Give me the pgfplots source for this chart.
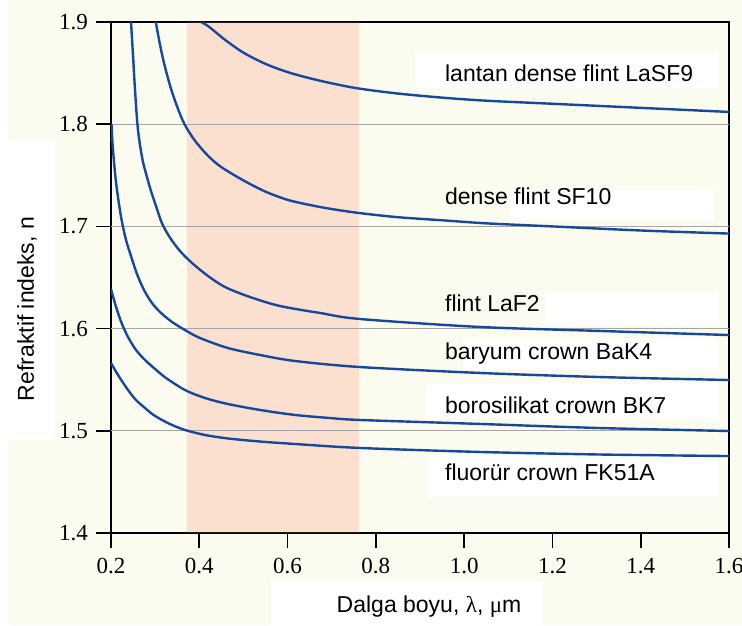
\documentclass[border=0pt]{standalone}
\usepackage{fontspec}
\setmainfont{Liberation Serif}
\newfontfamily\arial{Liberation Sans}
\usepackage{pgfplots}
\pgfplotsset{compat=1.18}
\definecolor{cream}{RGB}{251,251,240}
\definecolor{shade}{RGB}{251,224,208}
\definecolor{curve}{RGB}{22,72,155}
\definecolor{gridc}{RGB}{165,165,165}
\begin{document}
\begin{tikzpicture}
\fill[cream] (0,0) rectangle (742pt,625pt);
\fill[white] (0,0) rectangle (8pt,625pt);
\fill[white] (0,185pt) rectangle (55pt,485pt);
\fill[white] (271pt,0) rectangle (543pt,44pt);
\begin{axis}[
  at={(111pt,92pt)}, anchor=south west,
  scale only axis, width=618pt, height=511pt,
  xmin=0.2, xmax=1.6, ymin=1.4, ymax=1.9,
  xtick={0.2,0.4,0.6,0.8,1.0,1.2,1.4,1.6},
  ytick={1.4,1.5,1.6,1.7,1.8,1.9},
  xticklabel={\pgfmathprintnumber[fixed,fixed zerofill,precision=1,assume math mode=true]{\tick}},
  yticklabel={\pgfmathprintnumber[fixed,fixed zerofill,precision=1,assume math mode=true]{\tick}},
  xticklabel style={font=\rmfamily\fontsize{23}{25}\selectfont, inner sep=0pt, anchor=north, yshift=-25pt},
  yticklabel style={font=\rmfamily\fontsize{23}{25}\selectfont, inner sep=0pt, anchor=east, xshift=-23pt},
  major tick length=0pt,
  tick style={draw=none},
  axis line style={black, line width=1.6pt},
  axis background/.style={fill=cream},
]
\addplot[fill=shade, draw=none] coordinates {(0.372,1.4008) (0.762,1.4008) (0.762,1.8992) (0.372,1.8992)} \closedcycle;
% grid lines
\foreach \g in {1.5,1.6,1.7,1.8} {
  \edef\tmp{\noexpand\draw[gridc, line width=1pt] (axis cs:0.2,\g) -- (axis cs:1.6,\g);}\tmp
}

% white label patches
\fill[white] (axis cs:0.8886,1.8354) rectangle (axis cs:1.5749,1.8697);
\fill[white] (axis cs:1.1037,1.7063) rectangle (axis cs:1.5635,1.7356);
\fill[white] (axis cs:1.183,1.6035) rectangle (axis cs:1.5749,1.6358);
\fill[white] (axis cs:0.997,1.5595) rectangle (axis cs:1.5749,1.5908);
\fill[white] (axis cs:0.9112,1.5125) rectangle (axis cs:1.5749,1.5468);
\fill[white] (axis cs:0.918,1.4352) rectangle (axis cs:1.5749,1.4763);

% LaSF9
\addplot[curve, line width=2.4pt, smooth] coordinates {
(0.404,1.900)(0.42,1.896)(0.44,1.889)(0.46,1.882)(0.50,1.870)(0.55,1.859)(0.60,1.851)
(0.65,1.845)(0.70,1.840)(0.76,1.835)(0.85,1.830)(0.95,1.826)(1.05,1.823)(1.2,1.820)
(1.4,1.816)(1.6,1.812)};
% SF10
\addplot[curve, line width=2.4pt, smooth] coordinates {
(0.3015,1.900)(0.31,1.880)(0.32,1.860)(0.335,1.836)(0.35,1.817)(0.3665,1.800)(0.39,1.784)
(0.42,1.769)(0.45,1.758)(0.50,1.745)(0.55,1.734)(0.60,1.726)(0.65,1.721)(0.70,1.717)
(0.764,1.713)(0.85,1.709)(0.95,1.706)(1.05,1.703)(1.2,1.700)(1.4,1.696)(1.6,1.693)};
% LaF2
\addplot[curve, line width=2.4pt, smooth] coordinates {
(0.2453,1.900)(0.2498,1.8677)(0.2544,1.8335)(0.2600,1.7992)(0.2657,1.7796)(0.2725,1.7630)
(0.2815,1.7483)(0.2906,1.7346)(0.3019,1.7200)(0.3155,1.7030)(0.3336,1.6890)(0.3563,1.6759)
(0.3835,1.6642)(0.4197,1.6515)(0.4582,1.6407)(0.5148,1.6309)(0.5828,1.6221)(0.6734,1.6153)
(0.7640,1.6094)(1.0358,1.6016)(1.3076,1.5977)(1.6,1.5937)};
% BaK4
\addplot[curve, line width=2.4pt, smooth] coordinates {
(0.2011,1.8002)(0.2034,1.7816)(0.2068,1.7630)(0.2113,1.7434)(0.2181,1.7219)(0.2249,1.7043)
(0.2340,1.6867)(0.2453,1.6710)(0.2589,1.6534)(0.2747,1.6378)(0.2929,1.6250)(0.3133,1.6153)
(0.3382,1.6065)(0.3676,1.5986)(0.4016,1.5908)(0.4650,1.5810)(0.5375,1.5742)(0.6168,1.5683)
(0.7640,1.5624)(1.0358,1.5566)(1.3076,1.5526)(1.6,1.5497)};
% BK7
\addplot[curve, line width=2.4pt, smooth] coordinates {
(0.2,1.6387)(0.2068,1.6280)(0.2136,1.6182)(0.2249,1.6045)(0.2385,1.5918)(0.2566,1.5791)
(0.2770,1.5693)(0.2997,1.5605)(0.3246,1.5517)(0.3676,1.5399)(0.4129,1.5321)(0.4650,1.5262)
(0.5375,1.5204)(0.6168,1.5155)(0.6960,1.5125)(0.7640,1.5106)(1.0358,1.5067)(1.3076,1.5027)
(1.6,1.4998)};
% FK51A
\addplot[curve, line width=2.4pt, smooth] coordinates {
(0.2,1.5663)(0.2159,1.5546)(0.2385,1.5399)(0.2566,1.5301)(0.2770,1.5223)(0.2951,1.5159)
(0.3155,1.5106)(0.3382,1.5057)(0.3676,1.5008)(0.4129,1.4959)(0.4650,1.4925)(0.5375,1.4895)
(0.6168,1.4871)(0.7640,1.4832)(1.0358,1.4793)(1.3076,1.4768)(1.6,1.4753)};

\begin{scope}[every node/.style={anchor=west, inner sep=0pt, font=\arial\fontsize{23}{26}\selectfont}]
\node at (axis cs:0.9565,1.850) {lantan dense flint LaSF9};
\node at (axis cs:0.9565,1.729) {dense flint SF10};
\node at (axis cs:0.9565,1.625) {flint LaF2};
\node at (axis cs:0.9565,1.576) {baryum crown BaK4};
\node at (axis cs:0.9565,1.525) {borosilikat crown BK7};
\node at (axis cs:0.9565,1.459) {fluorür crown FK51A};
\end{scope}
\end{axis}
% tick marks
\foreach \i in {0,...,5} \draw[black, line width=1.6pt] (111pt,92pt+\i*102.2pt) -- ++(-15pt,0);
\foreach \i in {0,...,7} \draw[black, line width=1.6pt] (111pt+\i*88.2857pt,92pt) -- ++(0,-15pt);
\node[font=\arial\fontsize{23}{26}\selectfont, inner sep=0pt] at (429pt,18pt) {Dalga boyu, {\rmfamily λ}, {\rmfamily μ}m};
\node[font=\arial\fontsize{23}{26}\selectfont, inner sep=0pt, rotate=90] at (27pt,316pt) {Refraktif indeks, n};
\pgfresetboundingbox
\useasboundingbox (0,0) rectangle (742pt,625pt);
\end{tikzpicture}
\end{document}
